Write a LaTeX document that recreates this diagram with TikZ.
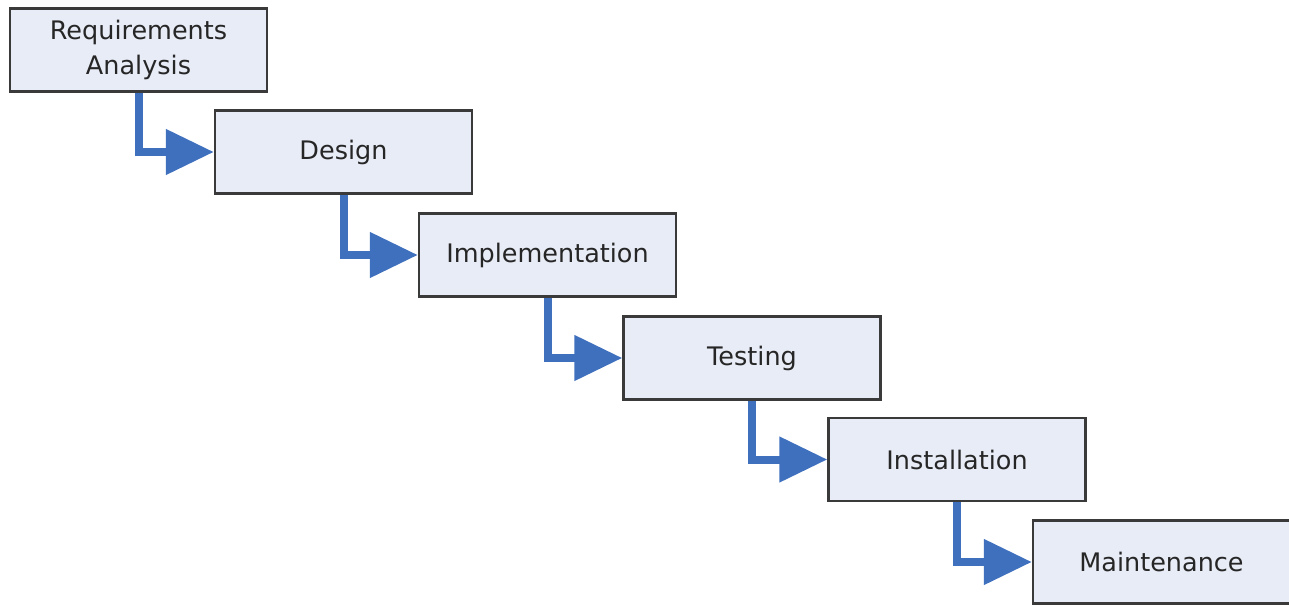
\documentclass[tikz,border=0pt]{standalone}
\usepackage{fontspec}
\setmainfont{DejaVu Sans}
\usetikzlibrary{arrows.meta}
\definecolor{boxfill}{HTML}{E8ECF6}
\definecolor{boxline}{HTML}{3A3A3A}
\definecolor{flowblue}{HTML}{3F70BE}
\tikzset{
  phase/.style={draw=boxline, line width=2.4pt, fill=boxfill, minimum width=257pt, minimum height=83pt, inner sep=0pt, align=center, font=\fontsize{25.5}{35}\selectfont, text=black!85},
  flow/.style={draw=flowblue, line width=8pt, line join=miter, -{Triangle[length=48pt,width=44pt]}}
}
\begin{document}
\begin{tikzpicture}[x=1pt,y=-1pt]
\useasboundingbox (0,0) rectangle (1289,607);
\node[phase] (req) at (138.5,50) {Requirements\\Analysis};
\node[phase] (des) at (343.5,152) {Design};
\node[phase] (imp) at (547.5,255) {Implementation};
\node[phase] (tes) at (752,358) {Testing};
\node[phase] (ins) at (957,459.5) {Installation};
\node[phase] (mai) at (1161.5,562) {Maintenance};
\draw[flow] (req.south) |- (des.west);
\draw[flow] (des.south) |- (imp.west);
\draw[flow] (imp.south) |- (tes.west);
\draw[flow] (tes.south) |- (ins.west);
\draw[flow] (ins.south) |- (mai.west);
\end{tikzpicture}
\end{document}
